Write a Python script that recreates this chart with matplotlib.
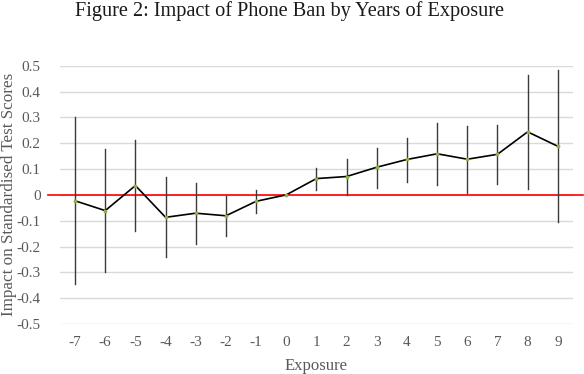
import matplotlib
matplotlib.use("Agg")
import matplotlib.pyplot as plt
import numpy as np

# Event-study estimates
exposure = [-7, -6, -5, -4, -3, -2, -1, 0, 1, 2, 3, 4, 5, 6, 7, 8, 9]
impact = [-0.023, -0.061, 0.036, -0.087, -0.071, -0.081, -0.025, 0.0,
          0.063, 0.071, 0.107, 0.137, 0.159, 0.138, 0.157, 0.244, 0.188]
ci_high = [0.300, 0.178, 0.213, 0.068, 0.046, -0.004, 0.019, 0.0,
           0.104, 0.138, 0.183, 0.221, 0.279, 0.268, 0.271, 0.465, 0.484]
ci_low = [-0.345, -0.300, -0.141, -0.242, -0.190, -0.160, -0.071, 0.0,
          0.017, 0.001, 0.028, 0.050, 0.037, 0.006, 0.041, 0.023, -0.106]
y_ticks = [-0.5, -0.4, -0.3, -0.2, -0.1, 0, 0.1, 0.2, 0.3, 0.4, 0.5]
y_tick_labels = ["-0.5", "-0.4", "-0.3", "-0.2", "-0.1", "0",
                 "0.1", "0.2", "0.3", "0.4", "0.5"]

SERIF = ["Liberation Serif", "DejaVu Serif"]
TEXT_GREY = "#595959"

plt.rcParams["font.family"] = SERIF

fig = plt.figure(figsize=(5.84, 3.74), dpi=100)
ax = fig.add_axes([0.1027, 0.1337, 0.8783, 0.6906])

pos = np.arange(len(exposure))

# gridlines
for v in y_ticks:
    ax.axhline(v, color="#d9d9d9", linewidth=1.0, zorder=1)

# error bars (skip the reference year with no interval)
for i in pos:
    if ci_high[i] != ci_low[i]:
        ax.plot([i, i], [ci_low[i], ci_high[i]], color="#3a3a3a",
                linewidth=1.0, zorder=3)

# zero line, runs slightly past the plot area
ax.axhline(0, xmin=-0.023, xmax=1.02, color="#ff0000", linewidth=1.2,
           clip_on=False, zorder=2)

ax.plot(pos, impact, color="black", linewidth=1.2, zorder=4)
ax.scatter(pos, impact, s=3, color="#8cb04a", zorder=5)

ax.set_xlim(-0.5, len(exposure) - 0.5)
ax.set_ylim(-0.5, 0.5)
ax.set_xticks(pos)
ax.set_xticklabels([str(e) for e in exposure])
ax.set_yticks(y_ticks)
ax.set_yticklabels(y_tick_labels)
ax.tick_params(length=0, labelsize=11, colors=TEXT_GREY, pad=9)
ax.tick_params(axis="y", pad=14)

for s in ax.spines.values():
    s.set_visible(False)

ax.set_xlabel("Exposure", fontsize=12, color=TEXT_GREY, labelpad=6)
ax.set_ylabel("Impact on Standardised Test Scores", fontsize=12.3,
              color=TEXT_GREY, va="center")
ax.yaxis.set_label_coords(-0.100, 0.5)

fig.text(0.495, 1 - 16 / 374, "Figure 2: Impact of Phone Ban by Years of Exposure",
         ha="center", va="baseline", fontsize=14.6, color="#1a1a1a")

fig.savefig("out.png", dpi=100, facecolor="white")
